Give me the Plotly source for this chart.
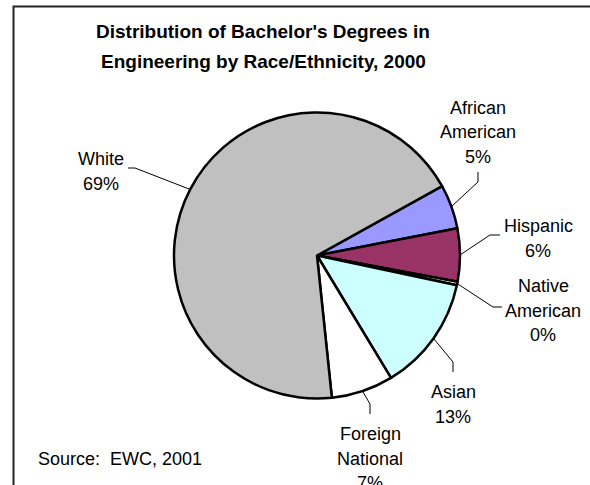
import math
import plotly.graph_objects as go

# ---- data ----
categories = ["African American", "Hispanic", "Native American", "Asian", "Foreign National", "White"]
values = [5.0, 6.0, 0.4, 13.0, 7.0, 68.6]
colors = ["#9999FF", "#993366", "#FFFFCC", "#CCFFFF", "#FFFFFF", "#C0C0C0"]
title_lines = ["Distribution of Bachelor's Degrees in", "Engineering by Race/Ethnicity, 2000"]
source_text = "Source:  EWC, 2001"

# ---- layout constants (pixels) ----
W, H = 590, 485
CX, CY, R = 317, 255.5, 143
ROTATION = 61
FONT = "Liberation Sans, Arial, sans-serif"
LINE_H = 24.5

# label anchor (center x, first line y) and leader-line polyline (from pie edge outward)
label_pos = {
    "African American": (478, 108),
    "Hispanic": (538, 226),
    "Native American": (543, 286),
    "Asian": (453, 392),
    "Foreign National": (370, 434),
    "White": (101, 159),
}
leader_pts = {
    "African American": [(478, 182), (478, 172)],
    "Hispanic": [(490, 235), (500, 235)],
    "Native American": [(493, 307), (502, 307)],
    "Asian": [(453, 362), (453, 372)],
    "Foreign National": [(370, 404), (370, 414)],
    "White": [(135, 168), (128, 168)],
}


def px(x):
    return x / W


def py(y):
    return 1 - y / H


fig = go.Figure()
fig.add_trace(go.Pie(
    labels=categories,
    values=values,
    sort=False,
    direction="clockwise",
    rotation=ROTATION,
    marker=dict(colors=colors, line=dict(color="black", width=2.5)),
    textinfo="none",
    hoverinfo="label+percent",
    showlegend=False,
    domain=dict(x=[px(CX - R), px(CX + R)], y=[py(CY + R), py(CY - R)]),
))

total = sum(values)
annotations = []
shapes = []

# title
for i, t in enumerate(title_lines):
    annotations.append(dict(
        text="<b>%s</b>" % t, x=px(263), y=py(32 + i * 29), xref="paper", yref="paper",
        xanchor="center", yanchor="middle", showarrow=False,
        font=dict(family=FONT, size=19, color="black"),
    ))

# labels + leader lines
cum = 0.0
for cat, v in zip(categories, values):
    mid = cum + v / 2
    cum += v
    theta = math.radians(ROTATION + 360 * mid / total)
    ex, ey = CX + R * math.sin(theta), CY - R * math.cos(theta)
    pct = "%d%%" % round(100 * v / total)
    lx, ly = label_pos[cat]
    lines = cat.split(" ") + [pct]
    for j, ln in enumerate(lines):
        annotations.append(dict(
            text=ln, x=px(lx), y=py(ly + j * LINE_H), xref="paper", yref="paper",
            xanchor="center", yanchor="middle", showarrow=False,
            font=dict(family=FONT, size=18, color="black"),
        ))
    pts = [(ex, ey)] + leader_pts[cat]
    path = "M %f %f " % (px(pts[0][0]), py(pts[0][1])) + " ".join(
        "L %f %f" % (px(a), py(b)) for a, b in pts[1:])
    shapes.append(dict(type="path", path=path, xref="paper", yref="paper",
                       line=dict(color="black", width=1)))

# source
annotations.append(dict(
    text=source_text, x=px(36), y=py(459), xref="paper", yref="paper",
    xanchor="left", yanchor="middle", showarrow=False,
    font=dict(family=FONT, size=18, color="black"),
))

# chart border (left and top visible, rest beyond the page)
shapes.append(dict(type="rect", xref="paper", yref="paper",
                   x0=px(13.5), y0=py(6.5), x1=px(W + 20), y1=py(H + 20),
                   line=dict(color="#222222", width=2), fillcolor="rgba(0,0,0,0)"))

fig.update_layout(
    width=W, height=H,
    margin=dict(l=0, r=0, t=0, b=0),
    paper_bgcolor="white",
    plot_bgcolor="white",
    annotations=annotations,
    shapes=shapes,
    font=dict(family=FONT),
)

fig.write_html("out.html")
